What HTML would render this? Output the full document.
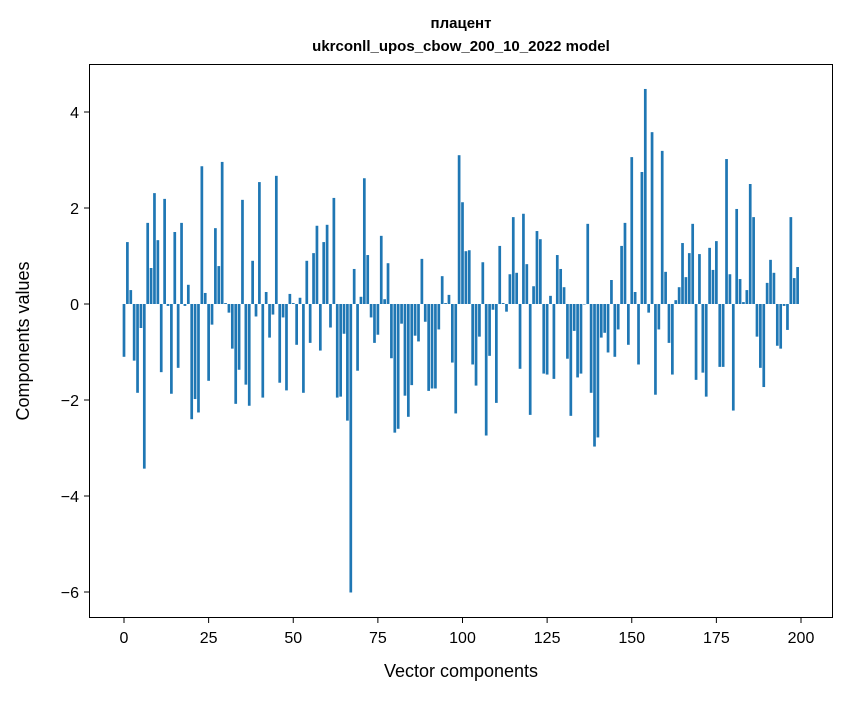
<!DOCTYPE html>
<html><head><meta charset="utf-8"><style>
body{margin:0;background:#fff;}
svg text{font-family:"Liberation Sans","DejaVu Sans",sans-serif;fill:#000;}
</style></head><body>
<svg id="chart" width="847" height="696" xmlns="http://www.w3.org/2000/svg">
<rect width="847" height="696" fill="#fff"/>
<text x="461" y="28" text-anchor="middle" font-size="15" font-weight="bold">плацент</text>
<text x="461" y="51" text-anchor="middle" font-size="15" font-weight="bold">ukrconll_upos_cbow_200_10_2022 model</text>
<g id="bars"></g>
<g id="axes"></g>
<rect x="89.5" y="64.5" width="743" height="553" fill="none" stroke="#000" stroke-width="1"/>
<text x="461" y="677" text-anchor="middle" font-size="18">Vector components</text>
<text transform="translate(29,341) rotate(-90)" text-anchor="middle" font-size="18">Components values</text>
</svg>
<script>
const values = [-1.1,1.29,0.29,-1.18,-1.85,-0.5,-3.43,1.69,0.75,2.31,1.33,-1.42,2.19,-0.04,-1.87,1.5,-1.33,1.69,-0.04,0.4,
-2.4,-1.98,-2.26,2.87,0.23,-1.6,-0.43,1.58,0.79,2.96,0.02,-0.18,-0.93,-2.08,-1.37,2.17,-1.68,-2.12,0.9,-0.26,
2.54,-1.95,0.25,-0.7,-0.22,2.67,-1.64,-0.28,-1.8,0.21,0.02,-0.85,0.13,-1.85,0.9,-0.81,1.06,1.63,-0.97,1.29,
1.65,-0.49,2.21,-1.95,-1.93,-0.62,-2.43,-6.01,0.73,-1.39,0.15,2.62,1.02,-0.28,-0.81,-0.64,1.42,0.1,0.85,-1.13,
-2.68,-2.6,-0.41,-1.91,-2.35,-1.69,-0.66,-0.78,0.94,-0.37,-1.81,-1.76,-1.76,-0.53,0.58,0.02,0.19,-1.22,-2.28,3.1,
2.12,1.1,1.12,-1.26,-1.7,-0.68,0.87,-2.74,-1.08,-0.12,-2.06,1.21,0.02,-0.16,0.62,1.81,0.65,-1.35,1.88,0.83,
-2.31,0.37,1.52,1.35,-1.45,-1.47,0.17,-1.56,1.02,0.73,0.35,-1.14,-2.33,-0.56,-1.53,-1.45,-0.01,1.67,-1.85,-2.97,
-2.78,-0.7,-0.6,-1.01,0.5,-1.1,-0.53,1.21,1.69,-0.85,3.06,0.25,-1.26,2.75,4.48,-0.18,3.58,-1.89,-0.53,3.19,
0.67,-0.81,-1.47,0.08,0.35,1.27,0.56,1.06,1.67,-1.58,1.04,-1.43,-1.93,1.17,0.71,1.31,-1.31,-1.31,3.02,0.62,
-2.22,1.98,0.52,0.04,0.29,2.5,1.81,-0.68,-1.33,-1.73,0.44,0.92,0.65,-0.87,-0.93,-0.04,-0.54,1.81,0.54,0.77];
const xTicks = [0,25,50,75,100,125,150,175,200];
const yTicks = [-6,-4,-2,0,2,4];
const yTickLabels = ["\u22126","\u22124","\u22122","0","2","4"];

const NS="http://www.w3.org/2000/svg";
function xs(v){return 124 + v*3.385;}
function ys(v){return 304 - v*48;}
const bars=document.getElementById('bars');
values.forEach((v,i)=>{
  const r=document.createElementNS(NS,'rect');
  
  
  const w=0.8*3.385;
  r.setAttribute('x',xs(i)-w/2);
  r.setAttribute('width',w);
  r.setAttribute('y',Math.min(ys(v),ys(0)));
  r.setAttribute('height',Math.abs(ys(v)-ys(0)));
  r.setAttribute('fill','#1f77b4');
  bars.appendChild(r);
});
const axes=document.getElementById('axes');
xTicks.forEach(t=>{
  const l=document.createElementNS(NS,'line');
  
  
  l.setAttribute('x1',xs(t));l.setAttribute('x2',xs(t));
  l.setAttribute('y1',618);l.setAttribute('y2',623);
  l.setAttribute('stroke','#000');
  axes.appendChild(l);
  const tx=document.createElementNS(NS,'text');
  
  
  tx.setAttribute('x',xs(t));tx.setAttribute('y',643);
  tx.setAttribute('text-anchor','middle');tx.setAttribute('font-size','16');
  tx.textContent=t;
  axes.appendChild(tx);
});
yTicks.forEach((t,i)=>{
  const l=document.createElementNS(NS,'line');
  
  
  l.setAttribute('x1',84);l.setAttribute('x2',89);
  l.setAttribute('y1',ys(t));l.setAttribute('y2',ys(t));
  l.setAttribute('stroke','#000');
  axes.appendChild(l);
  const tx=document.createElementNS(NS,'text');
  
  
  tx.setAttribute('x',79);tx.setAttribute('y',ys(t)+6);
  tx.setAttribute('text-anchor','end');tx.setAttribute('font-size','16');
  tx.textContent=yTickLabels[i];
  axes.appendChild(tx);
});
</script>
</body></html>
